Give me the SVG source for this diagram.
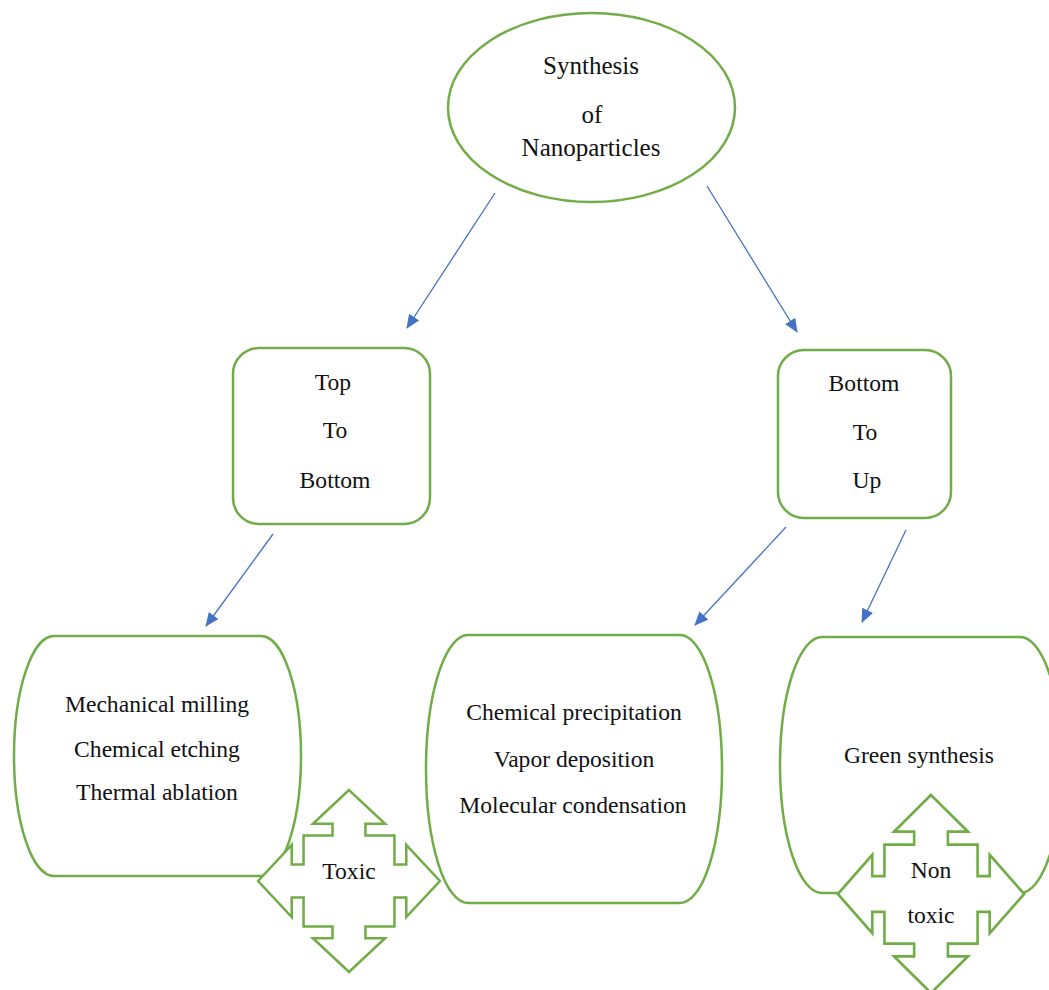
<svg xmlns="http://www.w3.org/2000/svg" width="1049" height="990" viewBox="0 0 1049 990">
  <style>
    .shape { fill: #ffffff; stroke: #70AD47; stroke-width: 2.5; }
    .quad { fill: #ffffff; stroke: #70AD47; stroke-width: 2.5; vector-effect: non-scaling-stroke; }
    .conn { stroke: #4472C4; stroke-width: 1.3; fill: none; marker-end: url(#ah); }
    text { font-family: "Liberation Serif", "Times New Roman", serif; fill: #111111; text-anchor: middle; }
    .t25 { font-size: 25px; }
    .t24 { font-size: 23.6px; }
  </style>
  <defs>
    <marker id="ah" markerUnits="userSpaceOnUse" markerWidth="16" markerHeight="14" refX="13" refY="6" orient="auto">
      <path d="M0,0 L14,6 L0,12 Z" fill="#4472C4"/>
    </marker>
    <path id="quadArrow" d="M0,-90 L35.7,-56.7 L16.3,-56.7 L16.3,-45 L45,-45 L45,-16.3 L56.7,-16.3 L56.7,-35.7 L90,0 L56.7,35.7 L56.7,16.3 L45,16.3 L45,45 L16.3,45 L16.3,56.7 L35.7,56.7 L0,90 L-35.7,56.7 L-16.3,56.7 L-16.3,45 L-45,45 L-45,16.3 L-56.7,16.3 L-56.7,35.7 L-90,0 L-56.7,-35.7 L-56.7,-16.3 L-45,-16.3 L-45,-45 L-16.3,-45 L-16.3,-56.7 L-35.7,-56.7 Z"/>
  </defs>
  <rect width="1049" height="990" fill="#ffffff"/>

  <g id="connectors">
    <line class="conn" x1="495" y1="193" x2="407" y2="328"/>
    <line class="conn" x1="707" y1="186" x2="797" y2="332"/>
    <line class="conn" x1="273" y1="534" x2="206" y2="626"/>
    <line class="conn" x1="786" y1="527" x2="695" y2="625"/>
    <line class="conn" x1="906" y1="530" x2="862" y2="622"/>
  </g>

  <g id="node-synthesis">
    <ellipse class="shape" cx="591.5" cy="107.5" rx="143.5" ry="94.5"/>
    <text class="t25" x="591" y="74">Synthesis</text>
    <text class="t25" x="592" y="123">of</text>
    <text class="t25" x="591" y="156">Nanoparticles</text>
  </g>

  <g id="node-top-to-bottom">
    <rect class="shape" x="233" y="348" width="197" height="176" rx="26" ry="26"/>
    <text class="t24" x="333" y="390">Top</text>
    <text class="t24" x="335" y="438">To</text>
    <text class="t24" x="335" y="488">Bottom</text>
  </g>

  <g id="node-bottom-to-up">
    <rect class="shape" x="778" y="350" width="173" height="168" rx="26" ry="26"/>
    <text class="t24" x="864" y="391">Bottom</text>
    <text class="t24" x="865" y="440">To</text>
    <text class="t24" x="867" y="488">Up</text>
  </g>

  <g id="node-top-down-methods">
    <rect class="shape" x="14" y="636" width="287" height="240" rx="40" ry="120"/>
    <text class="t24" x="157" y="712">Mechanical milling</text>
    <text class="t24" x="157" y="757">Chemical etching</text>
    <text class="t24" x="157" y="800">Thermal ablation</text>
  </g>

  <g id="node-bottom-up-methods">
    <rect class="shape" x="426" y="635" width="296" height="268" rx="42" ry="134"/>
    <text class="t24" x="574" y="720">Chemical precipitation</text>
    <text class="t24" x="574" y="767">Vapor deposition</text>
    <text class="t24" x="573" y="813">Molecular condensation</text>
  </g>

  <g id="node-green-synthesis">
    <rect class="shape" x="780" y="637" width="282" height="256" rx="42" ry="128"/>
    <text class="t24" x="919" y="763">Green synthesis</text>
  </g>

  <g id="node-toxic">
    <use href="#quadArrow" class="quad" transform="translate(349,881) scale(1.01)"/>
    <text class="t24" x="349" y="879">Toxic</text>
  </g>

  <g id="node-non-toxic">
    <use href="#quadArrow" class="quad" transform="translate(931,894) scale(1.035,1.1)"/>
    <text class="t24" x="931" y="878">Non</text>
    <text class="t24" x="931" y="923">toxic</text>
  </g>
</svg>
